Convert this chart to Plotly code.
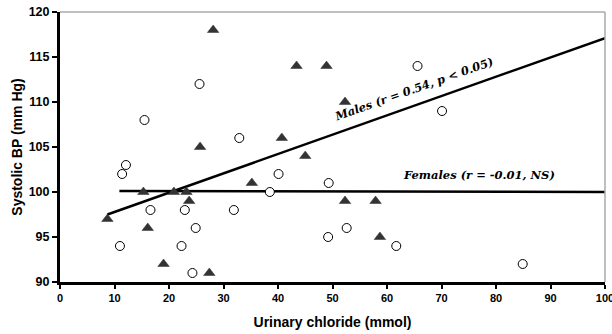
import plotly.graph_objects as go

# Males (filled triangles)
male_chloride = [8.7, 15.3, 20.9, 23.2, 23.7, 16.1, 19.0, 27.4, 25.7, 28.1,
                 43.4, 48.9, 52.3, 40.7, 45.0, 35.2, 52.3, 57.9, 58.7]
male_bp = [97, 100, 100, 100, 99, 96, 92, 91, 105, 118,
           114, 114, 110, 106, 104, 101, 99, 99, 95]

# Females (open circles)
female_chloride = [12.1, 11.4, 16.6, 22.9, 24.9, 11.0, 22.3, 24.3, 15.5, 25.6,
                   32.9, 65.6, 70.1, 40.1, 38.5, 49.3, 31.9, 52.6, 49.2, 61.7, 84.9]
female_bp = [103, 102, 98, 98, 96, 94, 94, 91, 108, 112,
             106, 114, 109, 102, 100, 101, 98, 96, 95, 94, 92]

# Regression line end points
male_fit_x = [8.7, 100]
male_fit_y = [97.5, 117.1]
female_fit_x = [10.9, 100]
female_fit_y = [100.1, 100.0]

x_ticks = [0, 10, 20, 30, 40, 50, 60, 70, 80, 90, 100]
y_ticks = [90, 95, 100, 105, 110, 115, 120]

fig = go.Figure()
fig.add_trace(go.Scatter(x=female_fit_x, y=female_fit_y, mode="lines",
                         line=dict(color="black", width=2.5), showlegend=False))
fig.add_trace(go.Scatter(x=male_fit_x, y=male_fit_y, mode="lines",
                         line=dict(color="black", width=2.5), showlegend=False))
fig.add_trace(go.Scatter(x=female_chloride, y=female_bp, mode="markers",
                         marker=dict(symbol="circle", size=9, color="white",
                                     line=dict(color="black", width=1)),
                         showlegend=False))
fig.add_trace(go.Scatter(x=male_chloride, y=male_bp, mode="markers",
                         marker=dict(symbol="triangle-up", size=10, color="#333333",
                                     line=dict(color="#333333", width=0.5)),
                         showlegend=False))

lab_font = dict(family="DejaVu Serif", size=11.5, color="black")
fig.add_annotation(x=65.0, y=111.4, text="<b><i>Males (r = 0.54, p < 0.05)</i></b>",
                   showarrow=False, textangle=-19.5, font=lab_font)
fig.add_annotation(x=76.8, y=101.9, text="<b><i>Females (r = -0.01, NS)</i></b>",
                   showarrow=False, font=lab_font)

# gray top/right frame
fig.add_shape(type="line", xref="paper", yref="paper", x0=0, x1=1, y0=1, y1=1,
              line=dict(color="#aaaaaa", width=1.5))
fig.add_shape(type="line", xref="paper", yref="paper", x0=1, x1=1, y0=0, y1=1,
              line=dict(color="#aaaaaa", width=1.5))

sans = "Liberation Sans, Arial"
fig.update_xaxes(range=[0, 100], tickvals=x_ticks, ticktext=[f"<b>{v}</b>" for v in x_ticks],
                 showgrid=False, zeroline=False, showline=True, linecolor="black", linewidth=3,
                 ticks="outside", ticklen=4, tickwidth=2, tickcolor="black",
                 tickfont=dict(family=sans, size=11, color="black"),
                 ticklabeloverflow="allow", automargin=False,
                 title=dict(text="<b>Urinary chloride (mmol)</b>",
                            font=dict(family=sans, size=14, color="black"), standoff=14))
fig.update_yaxes(range=[90, 120], tickvals=y_ticks, ticktext=[f"<b>{v}</b>" for v in y_ticks],
                 showgrid=False, zeroline=False, showline=True, linecolor="black", linewidth=3,
                 ticks="outside", ticklen=5, tickwidth=2, tickcolor="black",
                 tickfont=dict(family=sans, size=12.5, color="black"),
                 ticklabeloverflow="allow", automargin=False,
                 title=dict(text="<b>Systolic BP (mm Hg)</b>",
                            font=dict(family=sans, size=14, color="black"), standoff=3))

fig.update_layout(width=612, height=334, margin=dict(l=60, r=7, t=12, b=52),
                  paper_bgcolor="white", plot_bgcolor="white")
fig.write_html("out.html", config={"displayModeBar": False},
               post_script="document.body.style.margin='0';document.body.style.overflow='hidden';")
